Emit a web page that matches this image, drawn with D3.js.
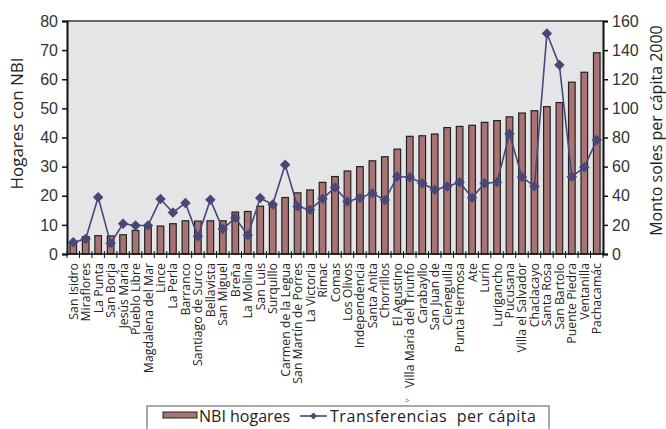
<!DOCTYPE html>
<html>
<head>
<meta charset="utf-8">
<script src="https://cdn.jsdelivr.net/npm/d3@7"></script>
<style>
  body { margin: 0; background: #fff; }
  svg { font-family: "Open Sans", "DejaVu Sans", sans-serif; }
</style>
</head>
<body>
<div id="chart"></div>
<script>
// districts, ordered by share of households with NBI
var districts = ["San Isidro", "Miraflores", "La Punta", "San Borja", "Jesús María", "Pueblo Libre",
    "Magdalena del Mar", "Lince", "La Perla", "Barranco", "Santiago de Surco", "Bellavista",
    "San Miguel", "Breña", "La Molina", "San Luis", "Surquillo", "Carmen de la Legua",
    "San Martín de Porres", "La Victoria", "Rímac", "Comas", "Los Olivos", "Independencia",
    "Santa Anita", "Chorrillos", "El Agustino", "Villa María del Triunfo", "Carabayllo",
    "San Juan de", "Cieneguilla", "Punta Hermosa", "Ate", "Lurín", "Lurigancho", "Pucusana",
    "Villa el Salvador", "Chaclacayo", "Santa Rosa", "San Bartolo", "Puente Piedra",
    "Ventanilla", "Pachacamác"];

var nbiHogares = [3.8, 6.0, 6.3, 6.2, 6.6, 8.1, 9.2, 9.6, 10.4, 11.4, 11.3, 11.4, 11.4, 14.4,
    14.6, 16.4, 17.4, 19.4, 21.0, 22.0, 24.6, 26.6, 28.5, 30.0, 32.0, 33.4, 36.0, 40.4, 40.6,
    41.2, 43.4, 43.8, 44.2, 45.2, 45.8, 47.1, 48.4, 49.2, 50.6, 52.0, 59.0, 62.4, 69.1];

var transferencias = [8, 10.3, 39, 7.3, 20.8, 19.6, 19.6, 37.7, 28.5, 35, 12, 37.2, 17.1, 24.9,
    12.8, 38.4, 34, 61.3, 32.6, 30.4, 37.9, 45.7, 36.1, 38.4, 41.8, 37, 53.2, 52.7, 48.6, 44.1,
    46.3, 49.3, 38.7, 48.6, 49.3, 82.5, 52.8, 46.5, 151.4, 129.8, 53, 59.6, 78.3];

var leftTicks = [0, 10, 20, 30, 40, 50, 60, 70, 80];
var rightTicks = [0, 20, 40, 60, 80, 100, 120, 140, 160];

var width = 666, height = 429;
var margin = {top: 21, right: 63, bottom: 175, left: 67};
var plotW = width - margin.left - margin.right;
var plotH = height - margin.top - margin.bottom;

var barColor = "#a97374";
var lineColor = "#4a4778";

var svg = d3.select("#chart").append("svg")
    .attr("width", width)
    .attr("height", height);

var g = svg.append("g")
    .attr("transform", "translate(" + margin.left + "," + margin.top + ")");

var x = d3.scaleBand().domain(districts).range([0, plotW]).paddingInner(0.47).paddingOuter(0.235);
var yLeft = d3.scaleLinear().domain([0, 80]).range([plotH, 0]);
var yRight = d3.scaleLinear().domain([0, 160]).range([plotH, 0]);

// plot background
g.append("rect")
    .attr("width", plotW)
    .attr("height", plotH)
    .attr("fill", "#e4e5e7");

g.append("line")
    .attr("x1", 0).attr("x2", plotW)
    .attr("y1", 0).attr("y2", 0)
    .attr("stroke", "#666")
    .attr("stroke-width", 2);

// bars
g.selectAll("rect.bar")
    .data(nbiHogares)
    .enter().append("rect")
    .attr("class", "bar")
    .attr("x", function(d, i) { return x(districts[i]); })
    .attr("y", function(d) { return yLeft(d); })
    .attr("width", x.bandwidth())
    .attr("height", function(d) { return plotH - yLeft(d); })
    .attr("fill", barColor)
    .attr("stroke", "#222")
    .attr("stroke-width", 1.2);

// transfer line
var line = d3.line()
    .x(function(d, i) { return x(districts[i]) + x.bandwidth() / 2; })
    .y(function(d) { return yRight(d); });

g.append("path")
    .datum(transferencias)
    .attr("d", line)
    .attr("fill", "none")
    .attr("stroke", lineColor)
    .attr("stroke-width", 1.6);

var diamond = d3.symbol().type(d3.symbolDiamond2).size(70);

g.selectAll("path.mark")
    .data(transferencias)
    .enter().append("path")
    .attr("class", "mark")
    .attr("d", diamond)
    .attr("transform", function(d, i) {
        return "translate(" + (x(districts[i]) + x.bandwidth() / 2) + "," + yRight(d) + ")";
    })
    .attr("fill", lineColor);

// axes
var step = x.step();
var xAxis = g.append("g")
    .attr("transform", "translate(0," + plotH + ")");
xAxis.append("line")
    .attr("x1", 0).attr("x2", plotW)
    .attr("stroke", "#111").attr("stroke-width", 1.5);
xAxis.selectAll("line.tick")
    .data(d3.range(districts.length + 1))
    .enter().append("line")
    .attr("class", "tick")
    .attr("x1", function(d) { return d * step; })
    .attr("x2", function(d) { return d * step; })
    .attr("y1", -3).attr("y2", 4)
    .attr("stroke", "#111");

xAxis.selectAll("text")
    .data(districts)
    .enter().append("text")
    .attr("transform", function(d) {
        return "translate(" + (x(d) + x.bandwidth() / 2 + 4.5) + ",9) rotate(-90)";
    })
    .attr("text-anchor", "end")
    .attr("font-size", "12.3px")
    .attr("fill", "#222")
    .text(function(d) { return d; });

var leftAxis = g.append("g")
    .call(d3.axisLeft(yLeft).tickValues(leftTicks).tickSize(5).tickPadding(4));
leftAxis.select(".domain").attr("stroke-width", 2).attr("stroke", "#111");
leftAxis.selectAll(".tick line").attr("stroke", "#111").attr("stroke-width", 1.5);
leftAxis.selectAll("text").attr("font-size", "16px").attr("fill", "#333");

var rightAxis = g.append("g")
    .attr("transform", "translate(" + plotW + ",0)")
    .call(d3.axisRight(yRight).tickValues(rightTicks).tickSize(5).tickPadding(4));
rightAxis.select(".domain").attr("stroke-width", 2).attr("stroke", "#111");
rightAxis.selectAll(".tick line").attr("stroke", "#111").attr("stroke-width", 1.5);
rightAxis.selectAll("text").attr("font-size", "16px").attr("fill", "#333");

// axis titles
svg.append("text")
    .attr("transform", "translate(23," + (margin.top + plotH * 0.44) + ") rotate(-90)")
    .attr("text-anchor", "middle")
    .attr("font-size", "17px")
    .attr("fill", "#222")
    .text("Hogares con NBI");

svg.append("text")
    .attr("transform", "translate(662," + (margin.top + plotH * 0.47) + ") rotate(-90)")
    .attr("text-anchor", "middle")
    .attr("font-size", "16px")
    .attr("fill", "#222")
    .text("Monto soles per cápita 2000");

svg.append("text")
    .attr("x", 405).attr("y", 403)
    .attr("font-size", "8px")
    .attr("fill", "#444")
    .text(">");

// legend
var legend = svg.append("g").attr("transform", "translate(147,406)");
legend.append("rect")
    .attr("width", 402).attr("height", 30)
    .attr("fill", "#fff")
    .attr("stroke", "#555");
legend.append("rect")
    .attr("x", 16).attr("y", 6).attr("width", 34).attr("height", 6)
    .attr("fill", barColor).attr("stroke", "#222");
legend.append("text")
    .attr("x", 52).attr("y", 16)
    .attr("font-size", "16px").attr("fill", "#222")
    .text("NBI hogares");

var lx = 153;
legend.append("line")
    .attr("x1", lx).attr("x2", lx + 27)
    .attr("y1", 10).attr("y2", 10)
    .attr("stroke", lineColor).attr("stroke-width", 1.6);
legend.append("path")
    .attr("d", d3.symbol().type(d3.symbolDiamond2).size(30))
    .attr("transform", "translate(" + (lx + 13.5) + ",10)")
    .attr("fill", lineColor);
legend.append("text")
    .attr("x", lx + 30).attr("y", 16)
    .attr("font-size", "16px").attr("fill", "#222")
    .attr("textLength", 206)
    .attr("xml:space", "preserve")
    .text("Transferencias  per cápita");
</script>
</body>
</html>
